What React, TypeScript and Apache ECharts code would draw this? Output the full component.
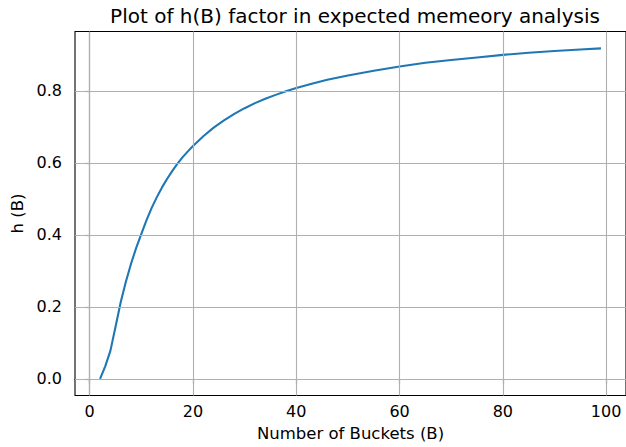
import React, { useEffect, useRef } from "react";
import * as echarts from "echarts";

const bucketCounts = [2, 3, 4, 5, 6, 7, 8, 9, 10, 11, 12, 13, 14, 15, 16, 17, 18, 19, 20, 22, 24, 26, 28, 30, 32, 34, 36, 38, 40, 43, 46, 50, 55, 60, 65, 70, 75, 80, 85, 90, 95, 99];
const hValues = [0, 0.035, 0.078, 0.145, 0.213, 0.27, 0.32, 0.364, 0.403, 0.441, 0.475, 0.505, 0.532, 0.556, 0.578, 0.598, 0.616, 0.632, 0.647, 0.674, 0.698, 0.718, 0.736, 0.752, 0.766, 0.778, 0.789, 0.799, 0.808, 0.82, 0.831, 0.843, 0.856, 0.868, 0.878, 0.886, 0.893, 0.9, 0.906, 0.911, 0.915, 0.918];
const xTicks = [0, 20, 40, 60, 80, 100];
const yTicks = [0, 0.2, 0.4, 0.6, 0.8];

const FONT = "DejaVu Sans";

export default function App() {
  const ref = useRef<HTMLDivElement>(null);
  useEffect(() => {
    if (!ref.current) return;
    const chart = echarts.init(ref.current, null, { renderer: "svg" });
    const data = bucketCounts.map((b, i) => [b, hValues[i]]);
    const gridLine = { color: "#b0b0b0", width: 1.1, type: "solid" as const };
    chart.setOption({
      animation: false,
      backgroundColor: "#ffffff",
      title: {
        text: "Plot of h(B) factor in expected memeory analysis",
        left: 350,
        textAlign: "center",
        top: 1,
        textStyle: { fontFamily: FONT, fontSize: 20, fontWeight: "normal", color: "#000" },
      },
      grid: {
        left: 75,
        top: 31.5,
        width: 556,
        height: 364,
        show: true,
        borderColor: "#000",
        borderWidth: 1.1,
        backgroundColor: "transparent",
      },
      xAxis: {
        type: "value",
        min: -2.85,
        max: 103.85,
        name: "Number of Buckets (B)",
        nameLocation: "middle",
        nameGap: 29.5,
        nameTextStyle: { fontFamily: FONT, fontSize: 16.5, color: "#000" },
        axisLine: { show: true, lineStyle: { color: "#000", width: 1.1 } },
        axisTick: { show: true, length: 4.9, customValues: xTicks, lineStyle: { color: "#000", width: 1.1 } },
        axisLabel: {
          customValues: xTicks,
          margin: 8,
          fontFamily: FONT,
          fontSize: 16,
          color: "#000",
          formatter: (v: number) => String(Math.round(v)),
        },
        splitLine: { show: false },
      },
      yAxis: {
        type: "value",
        min: -0.046,
        max: 0.965,
        name: "h (B)",
        nameLocation: "middle",
        nameRotate: 90,
        nameGap: 48,
        nameTextStyle: { fontFamily: FONT, fontSize: 16.5, color: "#000" },
        axisLine: { show: true, lineStyle: { color: "#000", width: 1.1 } },
        axisTick: { show: true, length: 4.9, customValues: yTicks, lineStyle: { color: "#000", width: 1.1 } },
        axisLabel: {
          customValues: yTicks,
          margin: 13,
          fontFamily: FONT,
          fontSize: 16,
          color: "#000",
          formatter: (v: number) => v.toFixed(1),
        },
        splitLine: { show: false },
      },
      series: [
        {
          type: "line",
          data: [],
          z: 1,
          silent: true,
          markLine: {
            silent: true,
            symbol: "none",
            label: { show: false },
            lineStyle: gridLine,
            emphasis: { disabled: true },
            data: [
              ...xTicks.map((x) => ({ xAxis: x })),
              ...yTicks.map((y) => ({ yAxis: y })),
            ],
          },
        },
        {
          type: "line",
          data,
          z: 3,
          showSymbol: false,
          symbol: "none",
          lineStyle: { color: "#1f77b4", width: 2.1 },
          itemStyle: { color: "#1f77b4" },
        },
      ],
    });
    return () => chart.dispose();
  }, []);
  return (
    <div
      ref={ref}
      style={{ position: "absolute", left: 0, top: 0, width: 626, height: 447, overflow: "hidden" }}
    />
  );
}
